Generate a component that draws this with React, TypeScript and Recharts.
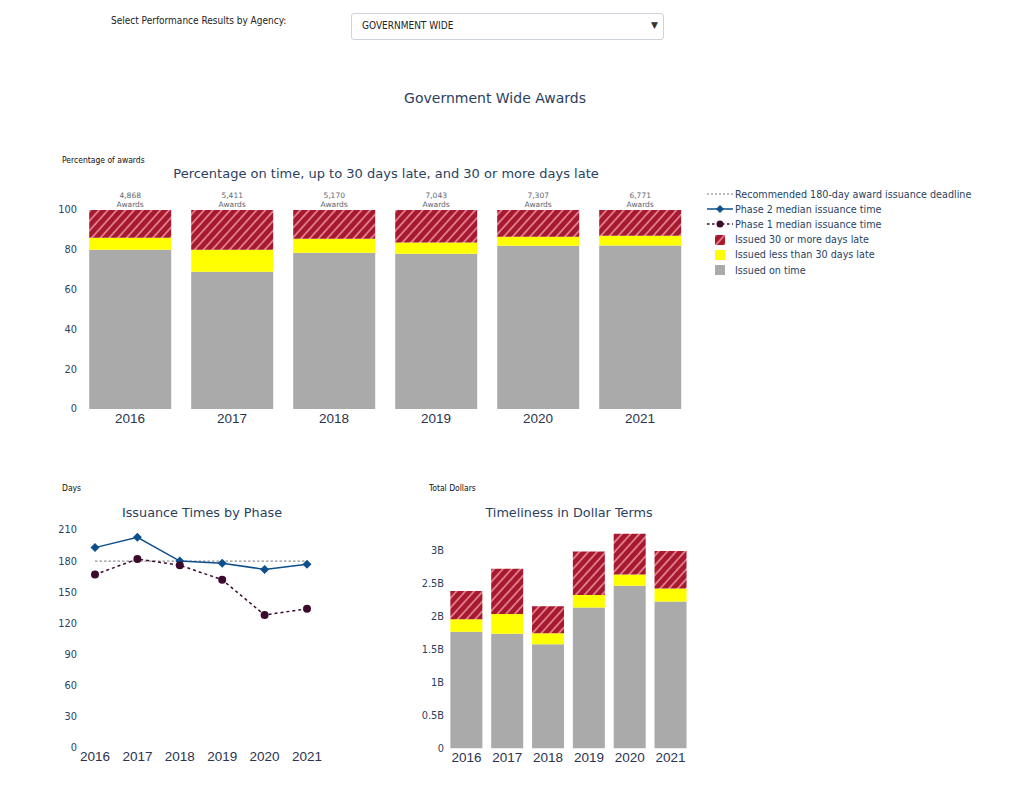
import React from 'react';
import { BarChart, Bar, LineChart, Line, XAxis, YAxis, Legend, LabelList } from 'recharts';

const years = ['2016', '2017', '2018', '2019', '2020', '2021'];
const awardCounts = [4868, 5411, 5170, 7043, 7307, 6771];
const pctOnTime = [80, 69, 78.5, 78, 82, 82.2];
const pctUnder30 = [6, 11, 7, 5.7, 4.6, 4.9];
const pct30Plus = [14, 20, 14.5, 16.3, 13.4, 12.9];

const phase2Days = [193, 203, 180, 178, 172, 177];
const phase1Days = [167, 182, 176, 162, 128, 134];
const deadlineDays = [180, 180, 180, 180, 180, 180];

const dollarsOnTime = [1.77, 1.74, 1.58, 2.14, 2.47, 2.23];
const dollarsUnder30 = [0.19, 0.3, 0.17, 0.19, 0.17, 0.2];
const dollars30Plus = [0.43, 0.69, 0.41, 0.66, 0.62, 0.57];

const pctTicks = [0, 20, 40, 60, 80, 100];
const dayTicks = [0, 30, 60, 90, 120, 150, 180, 210];
const dollarTicks = [0, 0.5, 1, 1.5, 2, 2.5, 3];

const legendLabels = [
  'Recommended 180-day award issuance deadline',
  'Phase 2 median issuance time',
  'Phase 1 median issuance time',
  'Issued 30 or more days late',
  'Issued less than 30 days late',
  'Issued on time',
];

const RED = '#a6192e';
const YELLOW = '#ffff00';
const GRAY = '#aaaaaa';
const BLUE = '#0d4f8b';
const PURPLE = '#3b0a2c';
const TXT = '#2a3f5f';
const SANS = '"DejaVu Sans", Verdana, sans-serif';
const COND = '"DejaVu Sans Condensed", "DejaVu Sans", sans-serif';
const ARIAL = '"Liberation Sans", Arial, sans-serif';

const topData = years.map((year, i) => ({
  year,
  onTime: pctOnTime[i],
  under30: pctUnder30[i],
  over30: pct30Plus[i],
  awards: awardCounts[i],
}));

const lineData = years.map((year, i) => ({
  year,
  phase2: phase2Days[i],
  phase1: phase1Days[i],
  deadline: deadlineDays[i],
}));

const dollarData = years.map((year, i) => ({
  year,
  onTime: dollarsOnTime[i],
  under30: dollarsUnder30[i],
  over30: dollars30Plus[i],
}));

const HatchDefs = ({ id }: { id: string }) => (
  <defs>
    <pattern id={id} patternUnits="userSpaceOnUse" width="6.5" height="6.5" patternTransform="rotate(42)">
      <rect x="0" y="0" width="6.5" height="6.5" fill={RED} />
      <line x1="1" y1="0" x2="1" y2="6.5" stroke="rgba(240,150,165,0.85)" strokeWidth="1.7" />
    </pattern>
  </defs>
);

const yTick = { fontSize: 9.8, fontFamily: SANS, fill: TXT };
const xTick = { fontSize: 13.5, fontFamily: ARIAL, fill: '#2a3350' };

const AwardsLabel = (props: any) => {
  const { x, y, width, value } = props;
  const cx = Number(x) + Number(width) / 2;
  return (
    <g>
      <text x={cx} y={Number(y) - 12} textAnchor="middle" fontSize={7.5} fontFamily={SANS} fill="#5b6675">
        {Number(value).toLocaleString('en-US')}
      </text>
      <text x={cx} y={Number(y) - 3} textAnchor="middle" fontSize={7.5} fontFamily={SANS} fill="#5b6675">
        Awards
      </text>
    </g>
  );
};

const LegendContent = () => {
  const swatch = (i: number) => {
    if (i === 0)
      return <line x1={1} y1={5} x2={27} y2={5} stroke="#555" strokeWidth={0.8} strokeDasharray="2 2" />;
    if (i === 1)
      return (
        <g>
          <line x1={1} y1={5} x2={27} y2={5} stroke={BLUE} strokeWidth={1.5} />
          <path d="M14 1 L18 5 L14 9 L10 5 Z" fill={BLUE} />
        </g>
      );
    if (i === 2)
      return (
        <g>
          <line x1={1} y1={5} x2={27} y2={5} stroke={PURPLE} strokeWidth={1.5} strokeDasharray="2.5 2.5" />
          <circle cx={14} cy={5} r={3.5} fill={PURPLE} />
        </g>
      );
    const fill = i === 3 ? 'url(#hatchLegend)' : i === 4 ? YELLOW : GRAY;
    return <rect x={9} y={0} width={10} height={10} fill={fill} />;
  };
  return (
    <div style={{ fontFamily: SANS, fontSize: 9.6, color: TXT }}>
      <svg width={0} height={0} style={{ position: 'absolute' }}>
        <HatchDefs id="hatchLegend" />
      </svg>
      {legendLabels.map((label, i) => (
        <div key={label} style={{ display: 'flex', alignItems: 'center', height: 15.2, whiteSpace: 'nowrap' }}>
          <svg width={29} height={10} style={{ marginRight: 0 }}>
            {swatch(i)}
          </svg>
          <span>{label}</span>
        </div>
      ))}
    </div>
  );
};

const Diamond = (props: any) => {
  const { cx, cy, index } = props;
  if (cx == null || cy == null) return <g key={`d-${index}`} />;
  return <path key={`d-${index}`} d={`M${cx} ${cy - 4.5} L${cx + 4.5} ${cy} L${cx} ${cy + 4.5} L${cx - 4.5} ${cy} Z`} fill={BLUE} />;
};

const Dot = (props: any) => {
  const { cx, cy, index } = props;
  if (cx == null || cy == null) return <g key={`c-${index}`} />;
  return <circle key={`c-${index}`} cx={cx} cy={cy} r={4} fill={PURPLE} />;
};

const Txt = ({ x, y, size, children, center = false, weight = 400, family = SANS, color = TXT }: any) => (
  <div
    style={{
      position: 'absolute',
      left: x,
      top: y,
      fontSize: size,
      fontFamily: family,
      fontWeight: weight,
      color,
      lineHeight: 1,
      whiteSpace: 'nowrap',
      transform: center ? 'translate(-50%, -50%)' : 'translate(0, -50%)',
    }}
  >
    {children}
  </div>
);

export default function App() {
  return (
    <div style={{ position: 'absolute', left: 0, top: 0, width: 1028, height: 794, background: '#fff' }}>
      <Txt x={111} y={21} size={10} family={COND} color="#222">
        Select Performance Results by Agency:
      </Txt>
      <div
        style={{
          position: 'absolute',
          left: 351,
          top: 13,
          width: 313,
          height: 27,
          border: '1px solid #cdd3da',
          borderRadius: 3,
          boxSizing: 'border-box',
        }}
      />
      <Txt x={362} y={26} size={10} family={COND} color="#222">
        GOVERNMENT WIDE
      </Txt>
      <Txt x={651} y={25} size={9} color="#333">
        ▼
      </Txt>

      <Txt x={495} y={98} size={14} center>
        Government Wide Awards
      </Txt>
      <Txt x={62} y={160} size={8.5} weight={400} family={COND} color="#111">
        Percentage of awards
      </Txt>
      <Txt x={386} y={173} size={13} center>
        Percentage on time, up to 30 days late, and 30 or more days late
      </Txt>

      <div style={{ position: 'absolute', left: 20, top: 180 }}>
        <BarChart width={980} height={260} data={topData} margin={{ top: 30, right: 309, bottom: 6, left: 19 }} barCategoryGap="10%">
          <HatchDefs id="hatchTop" />
          <XAxis dataKey="year" axisLine={false} tickLine={false} tickSize={0} tickMargin={4} height={25} tick={xTick} interval={0} />
          <YAxis domain={[0, 100]} ticks={pctTicks} axisLine={false} tickLine={false} tickSize={0} tickMargin={2} width={40} tick={yTick} />
          <Bar dataKey="onTime" stackId="a" fill={GRAY} isAnimationActive={false} />
          <Bar dataKey="under30" stackId="a" fill={YELLOW} isAnimationActive={false} />
          <Bar dataKey="over30" stackId="a" fill="url(#hatchTop)" isAnimationActive={false}>
            <LabelList dataKey="awards" content={AwardsLabel} />
          </Bar>
          <Legend
            layout="vertical"
            align="center"
            verticalAlign="middle"
            content={LegendContent}
            wrapperStyle={{ position: 'absolute', left: 686, top: 6.5, width: 300, height: 'auto' }}
          />
        </BarChart>
      </div>

      <Txt x={62} y={488} size={8.5} weight={400} family={COND} color="#111">
        Days
      </Txt>
      <Txt x={202} y={513} size={12.8} center>
        Issuance Times by Phase
      </Txt>
      <div style={{ position: 'absolute', left: 20, top: 500 }}>
        <LineChart width={320} height={270} data={lineData} margin={{ top: 30, right: 17, bottom: 2.3, left: 19 }}>
          <XAxis
            dataKey="year"
            axisLine={false}
            tickLine={false}
            tickSize={0}
            tickMargin={4}
            height={20}
            tick={xTick}
            interval={0}
            padding={{ left: 16, right: 16 }}
          />
          <YAxis domain={[0, 210]} ticks={dayTicks} axisLine={false} tickLine={false} tickSize={0} tickMargin={2} width={40} tick={yTick} />
          <Line dataKey="deadline" stroke="#555" strokeWidth={0.8} strokeDasharray="2.5 2" dot={false} isAnimationActive={false} />
          <Line dataKey="phase2" stroke={BLUE} strokeWidth={1.5} dot={Diamond} isAnimationActive={false} />
          <Line dataKey="phase1" stroke={PURPLE} strokeWidth={1.5} strokeDasharray="3 3" dot={Dot} isAnimationActive={false} />
        </LineChart>
      </div>

      <Txt x={429} y={488} size={8.5} weight={400} family={COND} color="#111">
        Total Dollars
      </Txt>
      <Txt x={569} y={513} size={12.8} center>
        Timeliness in Dollar Terms
      </Txt>
      <div style={{ position: 'absolute', left: 380, top: 500 }}>
        <BarChart width={330} height={270} data={dollarData} margin={{ top: 24.6, right: 19, bottom: 1.7, left: 20 }} barCategoryGap="10.7%">
          <HatchDefs id="hatchDollar" />
          <XAxis dataKey="year" axisLine={false} tickLine={false} tickSize={0} tickMargin={4} height={20} tick={xTick} interval={0} />
          <YAxis
            domain={[0, 3.4]}
            ticks={dollarTicks}
            axisLine={false}
            tickLine={false}
            tickSize={0}
            tickMargin={2}
            width={46}
            tick={yTick}
            tickFormatter={(v: number) => (v === 0 ? '0' : `${v}B`)}
          />
          <Bar dataKey="onTime" stackId="d" fill={GRAY} isAnimationActive={false} />
          <Bar dataKey="under30" stackId="d" fill={YELLOW} isAnimationActive={false} />
          <Bar dataKey="over30" stackId="d" fill="url(#hatchDollar)" isAnimationActive={false} />
        </BarChart>
      </div>
    </div>
  );
}
